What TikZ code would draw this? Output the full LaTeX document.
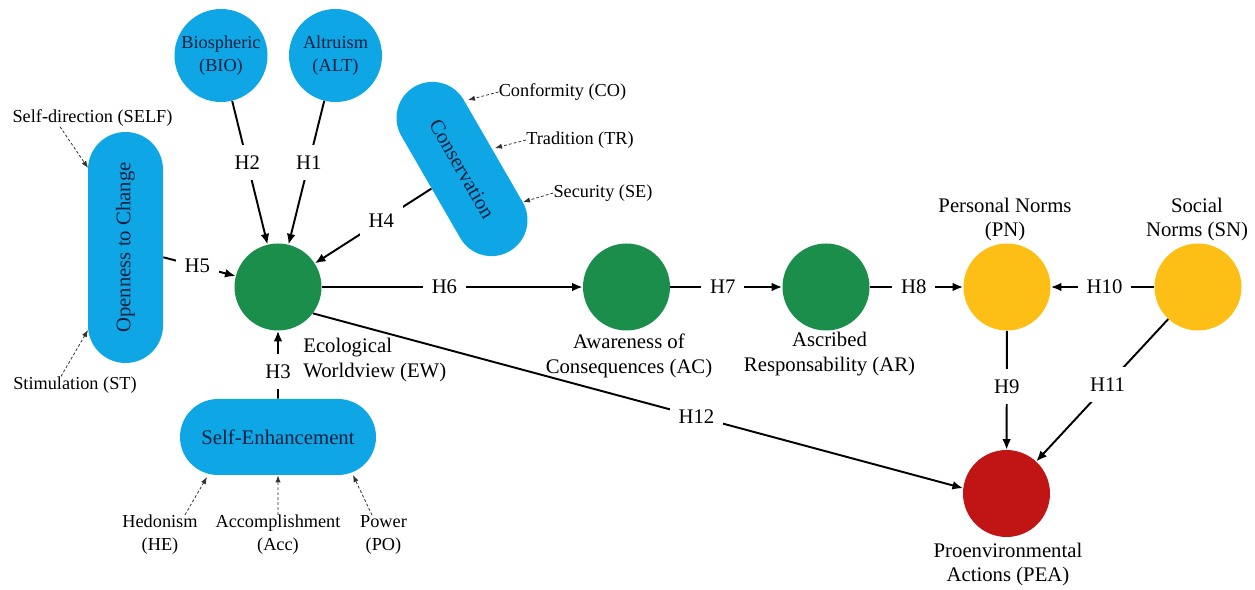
\documentclass[tikz,border=0pt]{standalone}
\definecolor{valueblue}{RGB}{14,166,228}
\definecolor{ecogreen}{RGB}{28,142,76}
\definecolor{normyellow}{RGB}{253,190,22}
\definecolor{actred}{RGB}{193,20,20}
\definecolor{inknavy}{RGB}{16,32,64}
\usepackage{fontspec}
\setmainfont{Liberation Serif}
\usetikzlibrary{shapes.misc,arrows.meta}

\begin{document}
\begin{tikzpicture}[
    bigtext/.style={font=\fontsize{11.8}{14.2}\selectfont},
    smalltext/.style={font=\fontsize{10.4}{13.2}\selectfont},
    valuenode/.style={circle, fill=valueblue, text=inknavy, minimum size=1.86cm, inner sep=0pt, align=center, smalltext},
    pillnode/.style={rounded rectangle, fill=valueblue, text=inknavy, inner sep=0pt, bigtext},
    construct/.style={circle, minimum size=1.74cm, inner sep=0pt},
    conlabel/.style={align=center, inner sep=0pt, bigtext},
    itemlabel/.style={align=center, inner sep=0pt, smalltext},
    hyp/.style={fill=white, inner xsep=5pt, inner ysep=6pt, bigtext},
    link/.style={line width=1.1pt, -{Latex[length=6pt,width=5pt]}},
    feeds/.style={line width=0.45pt, black!80, dash pattern=on 1.6pt off 1.2pt, -{Latex[length=4pt,width=3pt]}}
]
    \useasboundingbox (0,0) rectangle (25.1,11.8);

    % Value orientations
    \node[valuenode] (bio) at (4.42,10.69) {Biospheric\\(BIO)};
    \node[valuenode] (alt) at (6.71,10.69) {Altruism\\(ALT)};
    \node[pillnode, minimum height=1.5cm, minimum width=4.62cm, rotate=90] (open) at (2.51,6.85) {Openness to Change};
    \node[pillnode, minimum height=1.44cm, minimum width=3.8cm, rotate=-60] (cons) at (9.24,8.42) {Conservation};
    \node[pillnode, minimum height=1.52cm, minimum width=3.92cm] (enh) at (5.56,3.06) {Self-Enhancement};

    % VBN chain
    \node[construct, fill=ecogreen] (ew) at (5.56,6.06) {};
    \node[construct, fill=ecogreen] (ac) at (12.53,6.06) {};
    \node[construct, fill=ecogreen] (ar) at (16.52,6.06) {};
    \node[construct, fill=normyellow] (pn) at (20.14,6.06) {};
    \node[construct, fill=normyellow] (sn) at (23.96,6.06) {};
    \node[construct, fill=actred] (pea) at (20.13,1.93) {};

    % Hypotheses
    \draw[link] (bio) -- node[hyp, pos=0.43] {H2} (ew);
    \draw[link] (alt) -- node[hyp, pos=0.43] {H1} (ew);
    \draw[link] (cons) -- node[hyp, pos=0.43] {H4} (ew);
    \draw[link] (open) -- node[hyp, pos=0.47] {H5} (ew);
    \draw[link] (enh) -- node[hyp, pos=0.4] {H3} (ew);
    \draw[link] (ew) -- node[hyp, pos=0.47] {H6} (ac);
    \draw[link] (ac) -- node[hyp, pos=0.47] {H7} (ar);
    \draw[link] (ar) -- node[hyp, pos=0.47] {H8} (pn);
    \draw[link] (sn) -- node[hyp, pos=0.48] {H10} (pn);
    \draw[link] (pn) -- node[hyp, pos=0.47] {H9} (pea);
    \draw[link] (sn) -- node[hyp, pos=0.46] {H11} (pea);
    \draw[link] (ew.-37) -- node[hyp, pos=0.59] {H12} (pea.173);

    % Construct labels
    \node[conlabel, anchor=west, align=left] (ewlab) at (6.06,4.60) {Ecological\\Worldview (EW)};
    \node[conlabel] (aclab) at (12.58,4.68) {Awareness of\\Consequences (AC)};
    \node[conlabel] (arlab) at (16.59,4.71) {Ascribed\\Responsability (AR)};
    \node[conlabel] (pnlab) at (20.10,7.41) {Personal Norms\\(PN)};
    \node[conlabel] (snlab) at (23.94,7.41) {Social\\Norms (SN)};
    \node[conlabel] (pealab) at (20.16,0.51) {Proenvironmental\\Actions (PEA)};

    % Value items
    \node[itemlabel] (selfdir) at (1.85,9.44) {Self-direction (SELF)};
    \node[itemlabel] (stim) at (1.50,4.10) {Stimulation (ST)};
    \node[itemlabel] (conform) at (11.25,9.96) {Conformity (CO)};
    \node[itemlabel] (trad) at (11.60,9.00) {Tradition (TR)};
    \node[itemlabel] (secur) at (12.06,7.94) {Security (SE)};
    \node[itemlabel] (hedon) at (3.20,1.10) {Hedonism\\(HE)};
    \node[itemlabel] (accomp) at (5.56,1.10) {Accomplishment\\(Acc)};
    \node[itemlabel] (power) at (7.67,1.10) {Power\\(PO)};

    \coordinate (selfdir-tip) at (1.76,8.44);
    \coordinate (stim-tip) at (1.76,5.20);
    \coordinate (conform-tip) at (9.36,9.80);
    \coordinate (trad-tip) at (9.90,8.84);
    \coordinate (secur-tip) at (10.46,7.76);
    \coordinate (hedon-tip) at (4.14,2.26);
    \coordinate (power-tip) at (7.06,2.30);

    \draw[feeds] ([xshift=-0.65cm]selfdir.south) -- (selfdir-tip);
    \draw[feeds] ([xshift=-0.28cm]stim.north) -- (stim-tip);
    \draw[feeds] (conform.west) -- (conform-tip);
    \draw[feeds] (trad.west) -- (trad-tip);
    \draw[feeds] (secur.west) -- (secur-tip);
    \draw[feeds] ([xshift=0.5cm]hedon.north) -- (hedon-tip);
    \draw[feeds] (accomp) -- (enh);
    \draw[feeds] ([xshift=-0.23cm]power.north) -- (power-tip);
\end{tikzpicture}
\end{document}
